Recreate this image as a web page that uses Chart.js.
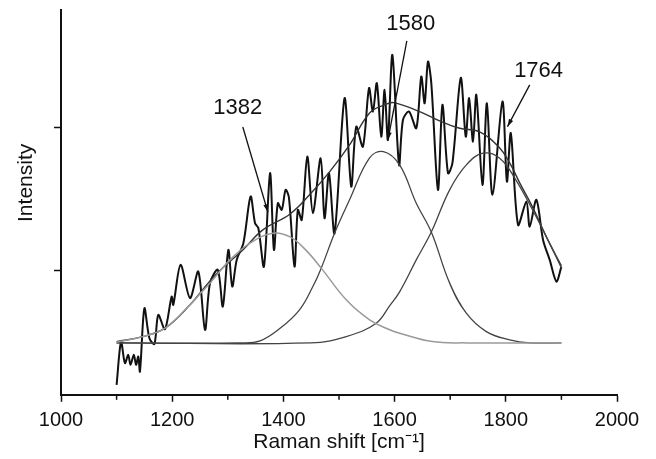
<!DOCTYPE html>
<html>
<head>
<meta charset="utf-8">
<script src="https://cdn.jsdelivr.net/npm/chart.js@4.4.0/dist/chart.umd.min.js"></script>
<style>
  html, body { margin: 0; padding: 0; background: #fff; }
  #wrap { width: 656px; height: 459px; }
</style>
</head>
<body>
<div id="wrap"><canvas id="myChart"></canvas></div>
<script>
// measured spectrum (Raman shift, intensity a.u.)
const specX = [1100, 1108, 1115, 1121, 1125, 1131, 1135, 1139, 1142, 1150, 1159, 1168, 1175, 1187, 1199, 1202,
  1215, 1232, 1247, 1259, 1268, 1282, 1291, 1301, 1308, 1316, 1328, 1341, 1349, 1355, 1365, 1376, 1383, 1390,
  1397, 1404, 1410, 1420, 1426, 1433, 1443, 1453, 1467, 1474, 1482, 1492, 1510, 1522, 1531, 1543, 1554, 1561,
  1568, 1576, 1582, 1588, 1596, 1608, 1615, 1626, 1639, 1648, 1654, 1660, 1666, 1678, 1686, 1696, 1704, 1719,
  1728, 1734, 1741, 1747, 1758, 1766, 1776, 1794, 1802, 1809, 1822, 1837, 1843, 1855, 1867, 1879, 1891, 1900];
const specY = [199, 502, 351, 409, 339, 409, 339, 397, 292, 736, 526, 486, 689, 589, 818, 760,
  1040, 807, 993, 584, 912, 1005, 748, 1145, 888, 1075, 1192, 1519, 1332, 1297, 1028, 1683, 1145, 1472,
  1426, 1566, 1510, 1028, 1425, 1355, 1799, 1402, 1788, 1367, 1683, 1262, 2209, 1589, 2009, 1869, 2279, 2115,
  2314, 1939, 2267, 1916, 2512, 1741, 2056, 2115, 1998, 2360, 2173, 2465, 2314, 1566, 2162, 1683, 1753, 2351,
  1939, 2209, 1904, 2232, 1601, 2173, 1531, 2185, 1624, 1963, 1320, 1484, 1308, 1496, 1215, 1075, 923, 1028];

// cumulative fit
const fitX = [1100, 1147, 1187, 1232, 1268, 1291, 1327, 1363, 1412, 1447, 1483, 1519, 1555, 1582, 1598, 1645,
  1681, 1717, 1753, 1789, 1807, 1825, 1848, 1873, 1900];
const fitY = [502, 537, 596, 760, 928, 1019, 1145, 1285, 1397, 1531, 1692, 1881, 2105, 2162, 2178, 2115,
  2049, 1998, 1972, 1860, 1755, 1615, 1447, 1236, 1033];

// fitted band 1 (1382)
const peak1X = [1100, 1147, 1187, 1232, 1250, 1268, 1304, 1340, 1381, 1412, 1440, 1468, 1513, 1555, 1591, 1609, 1668, 1729, 1900];
const peak1Y = [498, 537, 596, 760, 837, 912, 1075, 1192, 1262, 1236, 1145, 1017, 795, 655, 585, 561, 502, 493, 493];

// fitted band 2 (1580)
const peak2X = [1100, 1322, 1358, 1394, 1429, 1453, 1468, 1492, 1519, 1555, 1580, 1609, 1639, 1666, 1699, 1729, 1765, 1807, 1843, 1900];
const peak2Y = [493, 493, 507, 595, 725, 888, 1017, 1262, 1496, 1790, 1834, 1741, 1472, 1270, 912, 701, 572, 514, 493, 493];

// fitted band 3 (1764)
const peak3X = [1100, 1450, 1513, 1567, 1591, 1609, 1639, 1666, 1699, 1729, 1759, 1789, 1818, 1848, 1873, 1900];
const peak3Y = [493, 493, 537, 631, 753, 851, 1075, 1270, 1566, 1741, 1823, 1788, 1636, 1426, 1236, 1019];

const xTicks = [1000, 1200, 1400, 1600, 1800, 2000];
const minorTicks = [1100, 1300, 1500, 1700, 1900];
const yTicks = [1000, 2000];

// peak annotations: text, text position, arrow start, arrow tip
const peakLabels = ['1382', '1580', '1764'];
const labelPos = [[1318, 2140], [1629, 2729], [1859, 2400]];
const arrowFrom = [[1327, 2007], [1622, 2610], [1843, 2302]];
const arrowTo = [[1372, 1411], [1588, 1916], [1803, 2009]];
const yTitleAt = 1615;

const pts = (xs, ys) => xs.map((v, i) => ({x: v, y: ys[i]}));
const FONT = '"Liberation Sans", Arial, sans-serif';

const extras = {
    id: 'extras',
    afterDraw(chart) {
        const {ctx, scales: {x, y}} = chart;
        ctx.save();
        ctx.strokeStyle = '#111';
        ctx.lineWidth = 1.5;
        minorTicks.forEach(v => {
            const px = x.getPixelForValue(v);
            ctx.beginPath();
            ctx.moveTo(px, y.bottom);
            ctx.lineTo(px, y.bottom + 5);
            ctx.stroke();
        });

        ctx.fillStyle = '#111';
        ctx.font = '22px ' + FONT;
        ctx.textAlign = 'center';
        ctx.textBaseline = 'middle';
        peakLabels.forEach((t, i) => {
            ctx.fillText(t, x.getPixelForValue(labelPos[i][0]), y.getPixelForValue(labelPos[i][1]));
            const x0 = x.getPixelForValue(arrowFrom[i][0]), y0 = y.getPixelForValue(arrowFrom[i][1]);
            const x1 = x.getPixelForValue(arrowTo[i][0]), y1 = y.getPixelForValue(arrowTo[i][1]);
            ctx.lineWidth = 1.3;
            ctx.beginPath();
            ctx.moveTo(x0, y0);
            ctx.lineTo(x1, y1);
            ctx.stroke();
            const a = Math.atan2(y1 - y0, x1 - x0);
            ctx.beginPath();
            ctx.moveTo(x1, y1);
            ctx.lineTo(x1 - 8 * Math.cos(a - 0.3), y1 - 8 * Math.sin(a - 0.3));
            ctx.lineTo(x1 - 8 * Math.cos(a + 0.3), y1 - 8 * Math.sin(a + 0.3));
            ctx.closePath();
            ctx.fill();
        });

        // y axis title
        ctx.translate(y.left - 28, y.getPixelForValue(yTitleAt));
        ctx.rotate(-Math.PI / 2);
        ctx.font = '21px ' + FONT;
        ctx.fillText('Intensity', 0, 0);
        ctx.restore();
    }
};

const ctx = document.getElementById('myChart');
new Chart(ctx, {
    type: 'line',
    data: {
        datasets: [
            {label: 'peak 1', data: pts(peak1X, peak1Y), borderColor: '#9a9a9a', borderWidth: 1.5, tension: 0.4},
            {label: 'peak 2', data: pts(peak2X, peak2Y), borderColor: '#444', borderWidth: 1.3, tension: 0.4},
            {label: 'peak 3', data: pts(peak3X, peak3Y), borderColor: '#444', borderWidth: 1.3, tension: 0.4},
            {label: 'fit', data: pts(fitX, fitY), borderColor: '#333', borderWidth: 1.4, tension: 0.4},
            {label: 'spectrum', data: pts(specX, specY), borderColor: '#111', borderWidth: 2, tension: 0.3}
        ]
    },
    options: {
        responsive: true,
        maintainAspectRatio: false,
        animation: false,
        parsing: false,
        elements: { point: { radius: 0 } },
        layout: { padding: { top: 10, left: 54, right: 39, bottom: 2 } },
        plugins: { legend: { display: false }, tooltip: { enabled: false } },
        scales: {
            x: {
                type: 'linear',
                min: 1000,
                max: 2000,
                afterBuildTicks: s => { s.ticks = xTicks.map(v => ({value: v})); },
                grid: { drawOnChartArea: false, tickLength: 7, tickColor: '#111', tickWidth: 1.5 },
                border: { color: '#111', width: 2 },
                ticks: { color: '#111', padding: 7, maxRotation: 0, callback: v => String(v),
                    font: { size: 20, family: FONT } },
                title: { display: true, text: 'Raman shift [cm⁻¹]', color: '#111', padding: { top: -10, bottom: 2 },
                    font: { size: 21, family: FONT } }
            },
            y: {
                type: 'linear',
                min: 129,
                max: 2827,
                afterBuildTicks: s => { s.ticks = yTicks.map(v => ({value: v})); },
                grid: { drawOnChartArea: false, tickLength: 7, tickColor: '#111', tickWidth: 1.5 },
                border: { color: '#111', width: 2 },
                ticks: { display: false }
            }
        }
    },
    plugins: [extras]
});
</script>
</body>
</html>
